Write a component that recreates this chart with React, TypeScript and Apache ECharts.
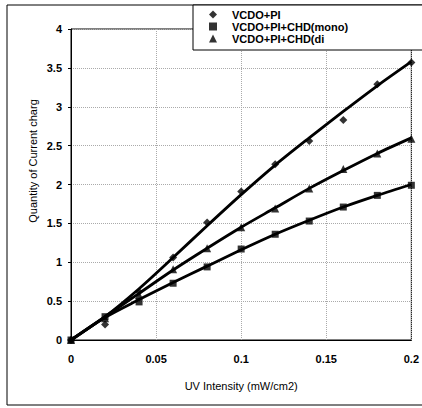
import React, { useEffect, useRef } from "react";
import * as echarts from "echarts";

const xValues = [0, 0.02, 0.04, 0.06, 0.08, 0.1, 0.12, 0.14, 0.16, 0.18, 0.2];
const seriesNames = ["VCDO+PI", "VCDO+PI+CHD(mono)", "VCDO+PI+CHD(di"];
const pointsPI = [0, 0.2, 0.62, 1.06, 1.51, 1.91, 2.26, 2.56, 2.83, 3.29, 3.57];
const pointsMono = [0, 0.3, 0.49, 0.73, 0.94, 1.17, 1.36, 1.53, 1.71, 1.86, 1.99];
const pointsDi = [0, 0.28, 0.58, 0.91, 1.18, 1.45, 1.69, 1.95, 2.2, 2.4, 2.59];
const fitPI = [0, 0.3, 0.66, 1.06, 1.47, 1.87, 2.25, 2.6, 2.94, 3.27, 3.58];
const fitMono = [0, 0.29, 0.52, 0.74, 0.95, 1.16, 1.36, 1.54, 1.71, 1.86, 2.0];
const fitDi = [0, 0.3, 0.6, 0.9, 1.18, 1.45, 1.7, 1.95, 2.18, 2.4, 2.6];
const symbols = ["diamond", "rect", "triangle"];
const symbolSizes = [8, 7, 8];

const font = "'Liberation Sans', Arial, sans-serif";

export default function App() {
  const ref = useRef<HTMLDivElement>(null);
  useEffect(() => {
    document.body.style.margin = "0";
    const chart = echarts.init(ref.current!, null, { renderer: "svg" });
    const pts = [pointsPI, pointsMono, pointsDi];
    const fits = [fitPI, fitMono, fitDi];
    const series: any[] = [];
    fits.forEach((f, i) => {
      series.push({
        type: "line",
        name: "fit" + i,
        data: xValues.map((x, j) => [x, f[j]]),
        smooth: 0.3,
        showSymbol: false,
        symbol: "none",
        lineStyle: { color: "#000", width: 2.8 },
        z: 2,
      });
    });
    pts.forEach((p, i) => {
      series.push({
        type: "scatter",
        name: seriesNames[i],
        data: xValues.map((x, j) => [x, p[j]]),
        symbol: symbols[i],
        symbolSize: symbolSizes[i],
        itemStyle: { color: "#000" },
        z: 3,
      });
    });
    chart.setOption({
      animation: false,
      backgroundColor: "#fff",
      grid: {
        left: 71,
        right: 10,
        top: 29,
        bottom: 68,
        show: true,
        borderColor: "#000",
        borderWidth: 1,
        backgroundColor: "transparent",
      },
      xAxis: {
        type: "value",
        min: 0,
        max: 0.2,
        interval: 0.05,
        name: "UV Intensity (mW/cm2)",
        nameLocation: "middle",
        nameGap: 40,
        nameTextStyle: { color: "#000", fontFamily: font, fontSize: 11 },
        axisLine: { show: true, lineStyle: { color: "#000", width: 1 } },
        axisTick: { show: false },
        axisLabel: {
          color: "#000",
          fontFamily: font,
          fontSize: 11,
          fontWeight: "bold",
          margin: 13,
        },
        splitLine: {
          show: true,
          lineStyle: { color: "#aaa", type: "dotted", width: 1 },
        },
      },
      yAxis: {
        type: "value",
        min: 0,
        max: 4,
        interval: 0.5,
        axisLine: { show: true, lineStyle: { color: "#000", width: 1 } },
        axisTick: { show: true, inside: false, length: 3, lineStyle: { color: "#000" } },
        axisLabel: {
          color: "#000",
          fontFamily: font,
          fontSize: 11,
          fontWeight: "bold",
          margin: 9,
        },
        splitLine: {
          show: true,
          lineStyle: { color: "#aaa", type: "dotted", width: 1 },
        },
      },
      legend: {
        data: seriesNames.map((n, i) => ({ name: n, icon: symbols[i] })),
        orient: "vertical",
        left: 209,
        top: 9,
        itemWidth: 8,
        itemHeight: 8,
        itemGap: 1,
        padding: 0,
        textStyle: {
          color: "#000",
          fontFamily: font,
          fontSize: 11,
          fontWeight: "bold",
          lineHeight: 11,
          padding: [0, 0, 0, 10],
        },
        z: 20,
      },
      graphic: [
        {
          type: "rect",
          shape: { x: 7, y: 5, width: 430, height: 400 },
          style: { fill: "none", stroke: "#000", lineWidth: 1 },
          z: 1,
          silent: true,
        },
        {
          type: "rect",
          shape: { x: 193, y: 5, width: 240, height: 45 },
          style: { fill: "#fff", stroke: "#000", lineWidth: 1 },
          z: 10,
          silent: true,
        },
        {
          type: "text",
          x: 33,
          y: 161,
          rotation: Math.PI / 2,
          style: {
            text: "Quantity of Current charg",
            fill: "#000",
            font: "11px " + font,
            align: "center",
            verticalAlign: "middle",
          },
          z: 10,
        },
      ],
      series,
    });
    return () => chart.dispose();
  }, []);
  return <div ref={ref} style={{ width: 422, height: 408 }} />;
}
